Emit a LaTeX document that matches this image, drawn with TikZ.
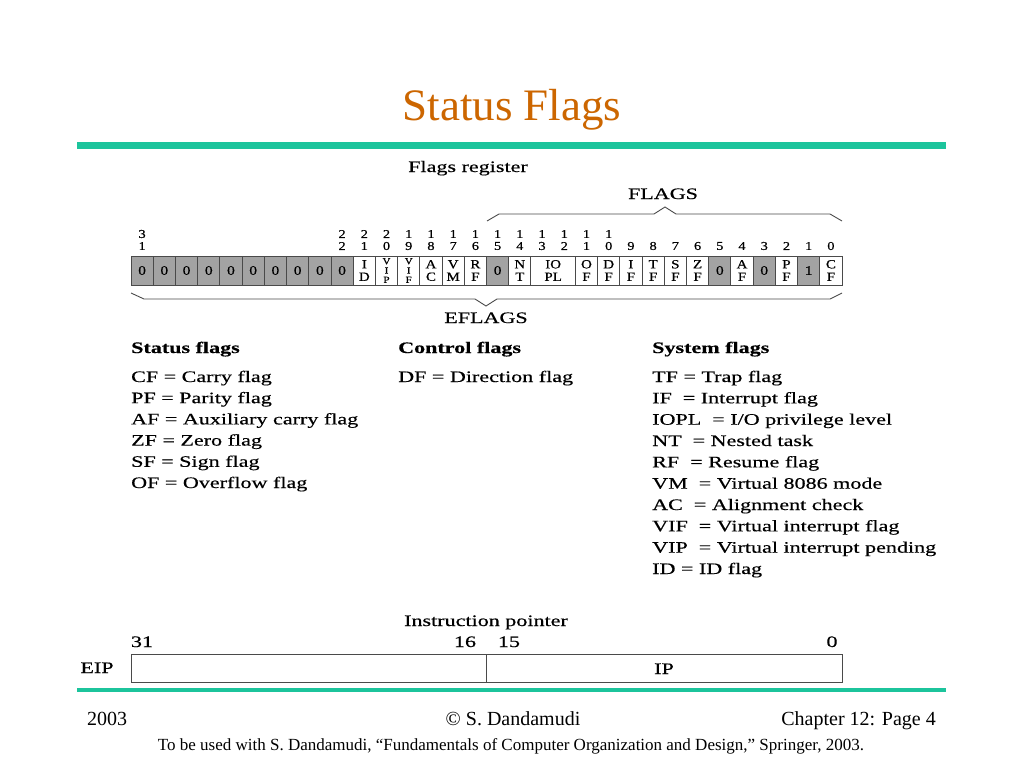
\documentclass[tikz,border=0pt]{standalone}
\usepackage{fontspec}
\setmainfont{Liberation Serif}
\newfontfamily\figfont{Liberation Serif}[FakeStretch=1.38,FakeBold=0.4]
\newfontfamily\cellfam{Liberation Serif}[FakeStretch=1.2,FakeBold=0.4]
\definecolor{titleorange}{HTML}{CC6600}
\definecolor{rulecol}{HTML}{1CC49C}
\definecolor{cellgray}{HTML}{A3A3A3}
\definecolor{linecol}{HTML}{4A4A4A}
\tikzset{
  cell/.style={draw=linecol, line width=0.9pt, minimum width=22.22pt, minimum height=29pt,
    inner sep=0pt, align=center, fill=white},
  zerocell/.style={fill=cellgray, font={\cellfam\fontsize{13}{13}\selectfont}},
  twoline/.style={font={\cellfam\fontsize{12.5}{12.5}\selectfont}},
  threeline/.style={font={\cellfam\fontsize{9.3}{9.3}\selectfont}},
  bitlab/.style={font={\cellfam\fontsize{12}{12}\selectfont}, inner sep=0pt, anchor=center},
  figtxt/.style={font={\figfont\fontsize{16}{16}\selectfont}, inner sep=0pt, anchor=base west},
  figbold/.style={font={\figfont\bfseries\fontsize{16}{16}\selectfont}, inner sep=0pt, anchor=base west},
  figc/.style={font={\figfont\fontsize{16}{16}\selectfont}, inner sep=0pt, anchor=base},
  brace/.style={draw=linecol, line width=0.9pt},
  foot/.style={font={\fontsize{20}{20}\selectfont}, inner sep=0pt},
}
\begin{document}
\begin{tikzpicture}[x=1pt,y=-1pt]
\useasboundingbox (0,0) rectangle (1024,768);
\fill[white] (0,0) rectangle (1024,768);

% title and rules
\node[font={\fontsize{45}{45}\selectfont}, text=titleorange, inner sep=0pt, anchor=base] (title) at (512,120) {Status Flags};
\draw[rulecol, line width=7pt] (77,145) -- (946,145);
\draw[rulecol, line width=4pt] (77,690) -- (946,690);

% headings of register
\node[figc] (freg) at (468,172) {Flags register};
\node[figc] (flagslab) at (663,199) {FLAGS};
\node[figc] (eflagslab) at (486,323) {EFLAGS};

% cells
\foreach \b in {22,...,31}
  \node[cell,zerocell] (b\b) at ({131+(31.5-\b)*22.21875},270.5) {0};
\foreach \b/\t/\s in {21/{I\\D}/twoline, 20/{V\\I\\P}/threeline, 19/{V\\I\\F}/threeline, 18/{A\\C}/twoline, 17/{V\\M}/twoline,
   16/{R\\F}/twoline, 14/{N\\T}/twoline, 11/{O\\F}/twoline, 10/{D\\F}/twoline, 9/{I\\F}/twoline, 8/{T\\F}/twoline,
   7/{S\\F}/twoline, 6/{Z\\F}/twoline, 4/{A\\F}/twoline, 2/{P\\F}/twoline, 0/{C\\F}/twoline}
  \node[cell,\s] (b\b) at ({131+(31.5-\b)*22.21875},270.5) {\t};
\foreach \b in {15,5,3}
  \node[cell,zerocell] (b\b) at ({131+(31.5-\b)*22.21875},270.5) {0};
\node[cell,zerocell] (b1) at ({131+(30.5)*22.21875},270.5) {1};
\node[cell,twoline,minimum width=44.44pt] (b13) at ({131+19*22.21875},270.5) {IO\\PL};

% bit numbers
\foreach \b in {31,22,21,20,19,18,17,16,15,14,13,12,11,10}{
  \pgfmathtruncatemacro\tens{\b/10}
  \pgfmathtruncatemacro\ones{\b-10*\tens}
  \node[bitlab] (t\b) at ({131+(31.5-\b)*22.21875},234) {\tens};
  \node[bitlab] (u\b) at ({131+(31.5-\b)*22.21875},246) {\ones};
}
\foreach \b in {0,...,9}
  \node[bitlab] (u\b) at ({131+(31.5-\b)*22.21875},246) {\b};

% FLAGS brace
\coordinate (fa) at (487,221);
\coordinate (fb) at (499,214);
\coordinate (fc) at (654,214);
\coordinate (fd) at (665,207);
\coordinate (fe) at (676,214);
\coordinate (ff) at (830,214);
\coordinate (fg) at (842,221);
\draw[brace] (fa) -- (fb) -- (fc) -- (fd) -- (fe) -- (ff) -- (fg);

% EFLAGS brace
\coordinate (ea) at (131,293);
\coordinate (eb) at (144,299);
\coordinate (ec) at (475,299);
\coordinate (ed) at (486,306);
\coordinate (ee) at (497,299);
\coordinate (ef) at (830,299);
\coordinate (eg) at (842,293);
\draw[brace] (ea) -- (eb) -- (ec) -- (ed) -- (ee) -- (ef) -- (eg);

% status flags
\node[figbold] (sh) at (131,353) {Status flags};
\node[figtxt] (s1) at (131,382) {CF = Carry flag};
\node[figtxt] (s2) at (131,403.2) {PF = Parity flag};
\node[figtxt] (s3) at (131,424.4) {AF = Auxiliary carry flag};
\node[figtxt] (s4) at (131,445.6) {ZF = Zero flag};
\node[figtxt] (s5) at (131,466.8) {SF = Sign flag};
\node[figtxt] (s6) at (131,488) {OF = Overflow flag};

% control flags
\node[figbold] (ch) at (398,353) {Control flags};
\node[figtxt] (cf1) at (398,382) {DF = Direction flag};

% system flags
\node[figbold] (yh) at (652,353) {System flags};
\node[figtxt] (y1) at (652,382) {TF = Trap flag};
\node[figtxt] (y2) at (652,403.3) {IF\ \ = Interrupt flag};
\node[figtxt] (y3) at (652,424.7) {IOPL\ \ = I/O privilege level};
\node[figtxt] (y4) at (652,446) {NT\ \ = Nested task};
\node[figtxt] (y5) at (652,467.3) {RF\ \ = Resume flag};
\node[figtxt] (y6) at (652,488.7) {VM\ \ = Virtual 8086 mode};
\node[figtxt] (y7) at (652,510) {AC\ \ = Alignment check};
\node[figtxt] (y8) at (652,531.3) {VIF\ \ = Virtual interrupt flag};
\node[figtxt] (y9) at (652,552.7) {VIP\ \ = Virtual interrupt pending};
\node[figtxt] (y10) at (652,574) {ID = ID flag};

% instruction pointer
\node[figc] (iptitle) at (486,626) {Instruction pointer};
\node[figc] (n31) at (142,647) {31};
\node[figc] (n16) at (465,647) {16};
\node[figc] (n15) at (509,647) {15};
\node[figc] (n0) at (832,647) {0};
\node[draw=linecol, line width=0.9pt, minimum width=355pt, minimum height=28pt, inner sep=0pt] (hi) at (308.5,668) {};
\node[draw=linecol, line width=0.9pt, minimum width=356pt, minimum height=28pt, inner sep=0pt] (lo) at (664,668) {};
\node[figc] (iplab) at (664,674) {IP};
\node[figc] (eiplab) at (97,673) {EIP};

% footer
\node[foot, anchor=base west] (fy) at (87,725) {2003};
\node[foot, anchor=base] (fcopy) at (513,725) {© S. Dandamudi};
\node[foot, anchor=base east] (fp) at (936,725) {Chapter 12: Page 4};
\node[font={\fontsize{17}{17}\selectfont}, inner sep=0pt, anchor=base] (fnote) at (511,750)
  {To be used with S. Dandamudi, “Fundamentals of Computer Organization and Design,” Springer, 2003.};
\end{tikzpicture}
\end{document}
